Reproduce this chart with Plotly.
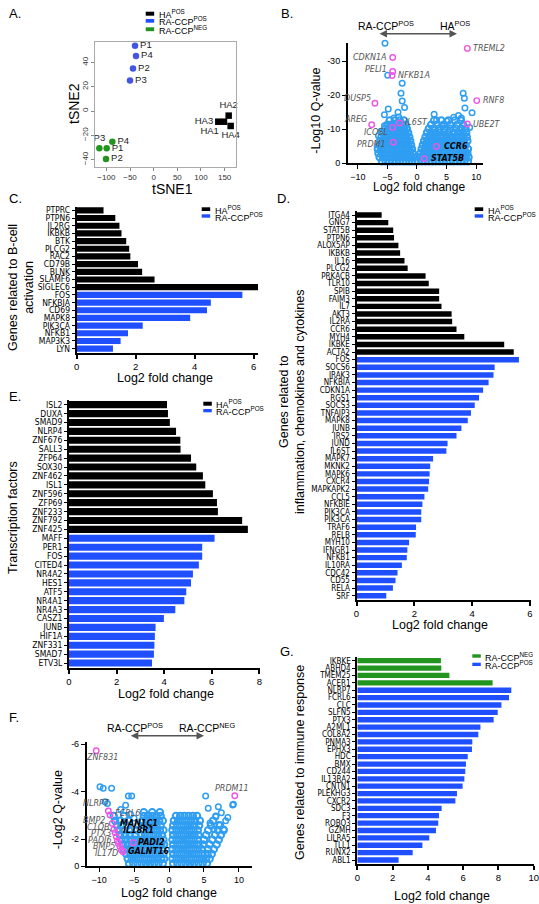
import plotly.graph_objects as go

W, H = 539, 904


def px(p):
    return p / W


def py(p):
    return 1 - p / H


BLACK = "#000000"
BLUE = "#1f4fff"
GREEN = "#22951f"
VBLUE = "#2f9ef2"
PINK = "#ee55e6"
ABLUE = "#4655e0"
LABEL_FONT = "DejaVu Sans Condensed, Liberation Sans Narrow, Liberation Sans, sans-serif"
MAIN_FONT = "Liberation Sans, Arial, sans-serif"
VOLC_FONT = "DejaVu Sans, Verdana, sans-serif"

# ---------------- Panel A: tSNE ----------------
tsne_ha_names = ["HA1", "HA2", "HA3", "HA4"]
tsne_ha_x = [148.6, 158.5, 136.6, 162.7]
tsne_ha_y = [-8.8, -3.8, -8.8, -12.3]
tsne_pos_names = ["P1", "P2", "P3", "P4"]
tsne_pos_x = [-39.4, -43.7, -50.0, -37.3]
tsne_pos_y = [53.7, 35.0, 25.0, 45.2]
tsne_neg_names = ["P1", "P2", "P3", "P4"]
tsne_neg_x = [-99.3, -100.7, -114.8, -87.3]
tsne_neg_y = [-30.7, -39.5, -30.7, -25.2]

# ---------------- Panel B: volcano HA vs RA-CCP+ ----------------
b_left_rows_y = [0.5, 1.7, 2.9, 4.1, 5.3, 6.5, 7.7, 8.9, 10.1, 11.3, 12.5]
b_left_rows_x = [
    [-5.9, -5.3, -4.7, -4.1, -3.5, -2.9, -2.3, -1.8, -1.3, -0.8, -0.3],
    [-6.3, -5.7, -5.1, -4.5, -3.9, -3.3, -2.7, -2.1, -1.6, -1.0, -0.5],
    [-6.5, -5.9, -5.3, -4.7, -4.1, -3.5, -2.9, -2.3, -1.8, -1.2, -0.7],
    [-6.6, -6.0, -5.4, -4.8, -4.2, -3.6, -3.0, -2.5, -1.9, -1.35, -0.85],
    [-6.4, -5.8, -5.2, -4.6, -4.0, -3.4, -2.8, -2.2, -1.6, -1.0],
    [-6.2, -5.6, -5.0, -4.4, -3.8, -3.2, -2.7, -2.2, -1.7, -1.15],
    [-6.0, -5.4, -4.8, -4.2, -3.6, -3.0, -2.4, -1.8, -1.3],
    [-5.7, -5.0, -4.4, -3.8, -3.2, -2.6, -2.0, -1.5],
    [-5.4, -4.6, -3.9, -3.3, -2.7, -2.2, -1.7],
    [-5.0, -4.3, -3.6, -3.0, -2.4, -1.9],
    [-4.6, -3.7, -2.9, -2.2],
]
b_right_rows_y = [0.5, 1.7, 2.9, 4.1, 5.3, 6.5, 7.7, 8.9, 10.1, 11.3, 12.5]
b_right_rows_x = [
    [0.2, 0.8, 1.4, 2.0, 2.6, 3.2, 3.8, 4.4, 5.0, 5.6, 6.2, 6.8, 7.4, 8.0, 8.6],
    [0.4, 1.0, 1.6, 2.2, 2.8, 3.4, 4.0, 4.6, 5.2, 5.8, 6.4, 7.0, 7.6, 8.2, 8.7],
    [0.6, 1.2, 1.8, 2.4, 3.0, 3.6, 4.2, 4.8, 5.4, 6.0, 6.6, 7.2, 7.8, 8.5],
    [0.8, 1.4, 2.0, 2.6, 3.2, 3.8, 4.4, 5.0, 5.6, 6.2, 6.8, 7.4, 8.0, 8.6],
    [1.0, 1.6, 2.2, 2.8, 3.4, 4.0, 4.6, 5.2, 5.8, 6.4, 7.0, 7.6, 8.2],
    [1.2, 1.8, 2.4, 3.0, 3.6, 4.2, 4.8, 5.4, 6.0, 6.6, 7.2, 7.8, 8.5],
    [1.45, 2.1, 2.7, 3.3, 3.9, 4.5, 5.1, 5.8, 6.5, 7.1, 7.7, 8.4],
    [1.7, 2.4, 3.1, 3.8, 4.6, 5.4, 6.2, 7.0, 7.7, 8.3],
    [2.0, 2.8, 3.7, 4.6, 5.6, 6.6, 7.5, 8.2],
    [2.4, 3.4, 4.5, 5.6, 6.8, 7.8],
    [2.9, 4.1, 5.3, 6.4, 7.4],
]
b_sparse_x = [-5.4, -4.95, -2.5, -2.7, -2.5, -2.1, -4.85, -5.5, -3.2, -3.9, -6.5, -6.1, -5.5,
              -3.1, 7.8, 8.0, 8.1, 9.3, 7.5, 6.2, 5.0, 2.9, 3.3, 4.2, 7.0, 8.9]
b_sparse_y = [35.3, 25.9, 23.5, 20.6, 18.3, 16.4, 15.9, 14.2, 15.0, 13.3, 8.0, 9.4, 11.0,
              13.6, 20.6, 19.1, 16.2, 14.8, 13.3, 13.5, 12.4, 14.4, 12.7, 11.2, 14.0, 10.5]
b_hl_names = ["TREML2", "CDKN1A", "PELI1", "NFKB1A", "DUSP5", "RNF8", "AREG", "UBE2T",
              "IL6ST", "ICOSL", "PRDM1", "CCR6", "STAT5B"]
b_hl_x = [8.5, -4.1, -4.1, -4.2, -7.1, 10.1, -7.65, 8.5, -2.9, -4.1, -4.0, 3.3, 1.24]
b_hl_y = [33.8, 31.1, 27.0, 25.8, 17.6, 18.4, 11.3, 11.5, 11.8, 10.5, 6.1, 4.9, 1.3]

# ---------------- Panel C: B-cell activation ----------------
c_ha_genes = ["PTPRC", "PTPN6", "IL2RG", "IKBKB", "BTK", "PLCG2", "RAC2", "CD79B",
              "BLNK", "SLAMF6", "SIGLEC6"]
c_ha_vals = [0.91, 1.31, 1.45, 1.52, 1.68, 1.78, 1.82, 2.08, 2.22, 2.64, 6.15]
c_ra_genes = ["FOS", "NFKBIA", "CD69", "MAPK8", "PIK3CA", "NFKB1", "MAP3K3", "LYN"]
c_ra_vals = [5.62, 4.55, 4.42, 3.85, 2.24, 1.74, 1.49, 1.23]

# ---------------- Panel D: inflammation ----------------
d_ha_genes = ["ITGA4", "GNG7", "STAT5B", "PTPN6", "ALOX5AP", "IKBKB", "IL16", "PLCG2",
              "PRKACB", "TLR10", "SPIB", "FAIM3", "IL7", "AKT3", "IL2RA", "CCR6", "MYH4",
              "IKBKE", "ACTA2"]
d_ha_vals = [0.87, 1.10, 1.27, 1.30, 1.45, 1.51, 1.66, 1.77, 2.39, 2.50, 2.86, 2.86, 2.94,
             3.29, 3.31, 3.46, 3.73, 5.11, 5.44]
d_ra_genes = ["FOS", "SOCS6", "IRAK3", "NFKBIA", "CDKN1A", "RGS1", "SOCS3", "TNFAIP3",
              "MAPK8", "JUNB", "IRS2", "JUND", "IL6ST", "MAPK7", "MKNK2", "MAPK6", "CXCR4",
              "MAPKAPK2", "CCL5", "NFKBIE", "PIK3CA", "PIK3CA", "TRAF6", "RELB", "MYH10",
              "IFNGR1", "NFKB1", "IL10RA", "CDC42", "CD55", "RELA", "SRF"]
d_ra_vals = [5.62, 4.78, 4.74, 4.57, 4.38, 4.24, 4.09, 3.96, 3.85, 3.63, 3.46, 3.15, 3.11,
             2.65, 2.55, 2.53, 2.51, 2.48, 2.35, 2.28, 2.24, 2.24, 2.06, 2.05, 1.82, 1.76,
             1.74, 1.57, 1.42, 1.35, 1.26, 1.03]

# ---------------- Panel E: transcription factors ----------------
e_ha_genes = ["ISL2", "DUXA", "SMAD9", "NLRP4", "ZNF676", "SALL3", "ZFP64", "SOX30",
              "ZNF462", "ISL1", "ZNF596", "ZFP69", "ZNF233", "ZNF792", "ZNF425"]
e_ha_vals = [4.12, 4.16, 4.24, 4.50, 4.68, 4.69, 5.13, 5.35, 5.63, 5.73, 6.05, 6.22, 6.26,
             7.28, 7.52]
e_ra_genes = ["MAFF", "PER1", "FOS", "CITED4", "NR4A2", "HES1", "ATF5", "NR4A1", "NR4A3",
              "CASZ1", "JUNB", "HIF1A", "ZNF331", "SMAD7", "ETV3L"]
e_ra_vals = [6.12, 5.60, 5.60, 5.46, 5.21, 5.13, 4.93, 4.85, 4.47, 3.99, 3.64, 3.61, 3.59,
             3.57, 3.49]

# ---------------- Panel F: volcano RA-CCP+ vs RA-CCP- ----------------
f_left_rows_y = [0.98, 1.18, 1.38, 1.58, 1.78, 1.98, 2.18, 2.38, 2.58, 2.78, 2.98, 3.14]
f_left_rows_x = [
    [-5.7, -5.1, -4.5, -3.9, -3.3, -2.7, -2.1, -1.5, -0.9],
    [-5.9, -5.3, -4.7, -4.1, -3.5, -2.9, -2.3, -1.7, -1.1, -0.7],
    [-6.1, -5.5, -4.9, -4.3, -3.7, -3.1, -2.5, -1.9, -1.3, -0.8],
    [-6.35, -5.75, -5.15, -4.55, -3.95, -3.35, -2.75, -2.15, -1.55, -0.95],
    [-6.55, -5.9, -5.3, -4.7, -4.1, -3.5, -2.9, -2.3, -1.7, -1.1, -0.7],
    [-6.8, -6.2, -5.5, -4.9, -4.3, -3.7, -3.1, -2.5, -1.9, -1.3, -0.8],
    [-7.0, -6.3, -5.6, -4.8, -4.0, -3.4, -2.8, -2.2, -1.6, -1.0],
    [-7.2, -6.5, -5.7, -4.6, -3.7, -3.1, -2.5, -1.9, -1.3, -0.8],
    [-7.45, -6.8, -5.9, -4.4, -3.6, -3.0, -2.4, -1.8, -1.2],
    [-7.7, -7.0, -5.8, -3.8, -3.2, -2.6, -2.0, -1.4, -0.9],
    [-7.9, -6.4, -3.6, -3.0, -2.4, -1.8, -1.2],
    [-3.6, -2.4, -1.3],
]
f_right_rows_y = [0.98, 1.18, 1.38, 1.58, 1.78, 1.98, 2.18, 2.38, 2.58, 2.78, 2.98]
f_right_rows_x = [
    [0.6, 1.2, 1.8, 2.4, 3.0, 3.6, 4.2, 4.8, 5.4],
    [0.5, 1.1, 1.7, 2.3, 2.9, 3.5, 4.1, 4.7, 5.3, 5.8],
    [0.6, 1.2, 1.8, 2.4, 3.0, 3.6, 4.2, 4.8, 5.5, 6.1],
    [0.5, 1.1, 1.7, 2.3, 2.9, 3.5, 4.1, 4.7, 5.6, 6.4],
    [0.6, 1.2, 1.8, 2.4, 3.0, 3.6, 4.2, 4.9, 5.8, 6.8],
    [0.5, 1.1, 1.7, 2.3, 2.9, 3.5, 4.1, 5.0, 6.2, 7.1],
    [0.6, 1.2, 1.8, 2.4, 3.0, 3.6, 4.2, 5.3, 6.6, 7.4],
    [0.5, 1.1, 1.7, 2.3, 2.9, 3.5, 4.1, 5.6, 7.0, 7.8],
    [0.6, 1.2, 1.8, 2.4, 3.0, 3.6, 4.3, 6.0, 7.3],
    [0.7, 1.3, 1.9, 2.5, 3.1, 3.7, 4.4, 6.3],
    [1.0, 1.6, 2.2, 2.8, 3.4, 4.0],
]
f_sparse_x = [-9.86, -9.4, -8.2, -9.14, -8.8, -6.2, -6.9, -5.8, -5.33, 5.24, 9.2, 5.6, 6.67,
              7.48, 8.4, 7.86, 7.14, 5.86, 6.43, 8.1, 7.05, 9.1, 6.7, -5.0, -5.5]
f_sparse_y = [4.21, 4.14, 4.14, 3.58, 3.50, 3.43, 3.25, 3.82, 3.82, 3.82, 3.47, 3.30, 2.98,
              3.12, 2.92, 2.42, 2.62, 2.69, 2.42, 2.78, 3.37, 3.44, 2.95, 2.9, 3.05]
f_hl_names = ["ZNF831", "PRDM11", "NLRP7", "FCRL6", "BMP2", "C1QB", "MAN1C1", "PTX3",
              "IL18R1", "PADI6", "BMP5", "GALNT16", "IL17D", "PADI2"]
f_hl_x = [-10.4, 9.4, -8.66, -8.43, -8.1, -7.86, -7.71, -7.52, -7.38, -7.24, -7.0, -6.81,
          -6.57, -5.1]
f_hl_y = [5.72, 3.83, 3.19, 3.02, 2.67, 2.42, 2.28, 2.11, 1.94, 1.83, 1.69, 1.55, 1.48, 1.86]

# ---------------- Panel G: immune response ----------------
g_neg_genes = ["IKBKE", "ABHD4", "TMEM25", "ACER1"]
g_neg_vals = [4.74, 4.76, 5.22, 7.67]
g_pos_genes = ["NLRP7", "FCRL6", "CLC", "SLFN5", "PTX3", "A2ML1", "COL8A2", "PNMA3", "EPHX3",
               "HDC", "BMX", "CD244", "IL13RA2", "CNTN1", "PLEKHG3", "CXCR2", "SDC3", "F3",
               "ROBO3", "GZMH", "LILRA5", "TLL1", "RUNX2", "ABL1"]
g_pos_vals = [8.73, 8.60, 8.17, 7.96, 7.73, 6.98, 6.86, 6.52, 6.50, 6.26, 6.16, 6.12, 6.07,
              5.97, 5.65, 5.56, 4.78, 4.63, 4.59, 4.46, 4.08, 3.69, 3.14, 2.34]


def flatten_rows(rows_y, rows_x):
    xs, ys = [], []
    for yv, row in zip(rows_y, rows_x):
        for xv in row:
            xs.append(xv)
            ys.append(yv)
    return xs, ys


fig = go.Figure()

# ---- Panel A traces
fig.add_trace(go.Scatter(x=tsne_ha_x, y=tsne_ha_y, text=tsne_ha_names, mode="markers+text",
                         textposition=["bottom left", "top center", "middle left", "bottom center"],
                         marker=dict(symbol="square", size=6.5, color=BLACK),
                         textfont=dict(size=9.5, color="#222"), xaxis="x", yaxis="y",
                         cliponaxis=False, showlegend=False))
fig.add_trace(go.Scatter(x=tsne_pos_x, y=tsne_pos_y, text=tsne_pos_names, mode="markers+text",
                         textposition="middle right",
                         marker=dict(symbol="circle", size=6.5, color=ABLUE),
                         textfont=dict(size=9.5, color="#222"), xaxis="x", yaxis="y",
                         cliponaxis=False, showlegend=False))
fig.add_trace(go.Scatter(x=tsne_neg_x, y=tsne_neg_y, text=tsne_neg_names, mode="markers+text",
                         textposition=["middle right", "middle right", "top center", "middle right"],
                         marker=dict(symbol="circle", size=6.5, color=GREEN),
                         textfont=dict(size=9.5, color="#222"), xaxis="x", yaxis="y",
                         cliponaxis=False, showlegend=False))


# ---- Volcano helper
def add_volcano(rows, sparse_x, sparse_y, hl_x, hl_y, xa, ya):
    allx, ally = [], []
    for ry, rx in rows:
        xs, ys = flatten_rows(ry, rx)
        allx += xs
        ally += ys
    # dense cloud (many overlapping points)
    fig.add_trace(go.Scatter(x=allx, y=ally, mode="markers",
                             marker=dict(symbol="circle-open", size=6.5, color=VBLUE,
                                         line=dict(width=2, color=VBLUE)),
                             xaxis=xa, yaxis=ya, cliponaxis=False, showlegend=False))
    # isolated points
    fig.add_trace(go.Scatter(x=sparse_x, y=sparse_y, mode="markers",
                             marker=dict(symbol="circle-open", size=5.5, color=VBLUE,
                                         line=dict(width=1.5, color=VBLUE)),
                             xaxis=xa, yaxis=ya, cliponaxis=False, showlegend=False))
    fig.add_trace(go.Scatter(x=hl_x, y=hl_y, mode="markers",
                             marker=dict(symbol="circle-open", size=5.5, color=PINK,
                                         line=dict(width=1.4, color=PINK)),
                             xaxis=xa, yaxis=ya, cliponaxis=False, showlegend=False))


add_volcano([(b_left_rows_y, b_left_rows_x), (b_right_rows_y, b_right_rows_x)],
            b_sparse_x, b_sparse_y, b_hl_x, b_hl_y, "x2", "y2")
add_volcano([(f_left_rows_y, f_left_rows_x), (f_right_rows_y, f_right_rows_x)],
            f_sparse_x, f_sparse_y, f_hl_x, f_hl_y, "x6", "y6")


# ---- Bar helper
def add_bars(g1_names, g1_vals, g1_color, g2_names, g2_vals, g2_color, xa, ya, width):
    n1 = len(g1_names)
    pos1 = list(range(n1))
    pos2 = list(range(n1, n1 + len(g2_names)))
    fig.add_trace(go.Bar(x=g1_vals, y=pos1, orientation="h", marker=dict(color=g1_color, line=dict(width=0)),
                         width=width, xaxis=xa, yaxis=ya, showlegend=False))
    fig.add_trace(go.Bar(x=g2_vals, y=pos2, orientation="h", marker=dict(color=g2_color, line=dict(width=0)),
                         width=width, xaxis=xa, yaxis=ya, showlegend=False))
    return g1_names + g2_names


c_names = add_bars(c_ha_genes, c_ha_vals, BLACK, c_ra_genes, c_ra_vals, BLUE, "x3", "y3", 0.8)
d_names = add_bars(d_ha_genes, d_ha_vals, BLACK, d_ra_genes, d_ra_vals, BLUE, "x4", "y4", 0.72)
e_names = add_bars(e_ha_genes, e_ha_vals, BLACK, e_ra_genes, e_ra_vals, BLUE, "x5", "y5", 0.8)
g_names = add_bars(g_neg_genes, g_neg_vals, GREEN, g_pos_genes, g_pos_vals, BLUE, "x7", "y7", 0.72)

# ---------------- Axes ----------------
layout = dict(
    width=W, height=H, margin=dict(l=0, r=0, t=0, b=0),
    paper_bgcolor="white", plot_bgcolor="white", showlegend=False,
    font=dict(family=MAIN_FONT, size=9, color="black"),
    barmode="overlay", template="none",
)


def common(ax):
    ax.update(showgrid=False, zeroline=False, automargin=False, fixedrange=True)
    return ax


# Panel A
layout["xaxis"] = common(dict(domain=[px(95), px(236)], range=[-124, 174], anchor="y",
                              showline=True, mirror=True, linecolor="#aaa", linewidth=1,
                              ticks="outside", ticklen=3, tickcolor="#888",
                              tickvals=[-100, -50, 0, 50, 100, 150],
                              tickfont=dict(size=8, color="#333")))
layout["yaxis"] = common(dict(domain=[py(166.7), py(41.7)], range=[-45.8, 57], anchor="x",
                              showline=True, mirror=True, linecolor="#aaa", linewidth=1,
                              ticks="outside", ticklen=3, tickcolor="#888",
                              tickvals=[-40, -20, 0, 20, 40], tickangle=-90,
                              tickfont=dict(size=8, color="#333")))


def volc_axes(xn, yn, xdom, ydom, xr, yr, xt, yt, ytt):
    layout["xaxis" + xn] = common(dict(domain=[px(xdom[0]), px(xdom[1])], range=xr, anchor="y" + xn,
                                       showline=True, linecolor="black", linewidth=1.5,
                                       ticks="outside", ticklen=4, tickwidth=1.2, tickcolor="black",
                                       tickvals=xt, tickfont=dict(size=9)))
    layout["yaxis" + yn] = common(dict(domain=[py(ydom[1]), py(ydom[0])], range=yr, anchor="x" + yn,
                                       showline=True, linecolor="black", linewidth=1.5,
                                       ticks="outside", ticklen=4, tickwidth=1.2, tickcolor="black",
                                       tickvals=yt, ticktext=ytt, tickfont=dict(size=9)))


volc_axes("2", "2", (347.7, 483.3), (43.3, 163), [-11.7, 11.2], [0, 35.3],
          [-10, -5, 0, 5, 10], [0, 10, 20, 30], ["0", "-10", "-20", "-30"])
volc_axes("6", "6", (86.7, 252), (741.7, 866), [-11.76, 11.86], [0.88, 6.1],
          [-10, -5, 0, 5, 10], [0.88, 2, 4, 6], ["0", "-2", "-4", "-6"])


def bar_axes(n, xdom, ydom, xr, xt, names, lsize):
    layout["xaxis" + n] = common(dict(domain=[px(xdom[0]), px(xdom[1])], range=xr, anchor="y" + n,
                                      showline=True, linecolor="black", linewidth=2,
                                      ticks="outside", ticklen=4, tickwidth=1.5, tickcolor="black",
                                      tickvals=xt, tickfont=dict(size=9.5)))
    layout["yaxis" + n] = common(dict(domain=[py(ydom[1]), py(ydom[0])],
                                      range=[len(names) - 0.5, -0.5], anchor="x" + n,
                                      showline=True, linecolor="black", linewidth=2,
                                      ticks="outside", ticklen=3, tickwidth=1, tickcolor="black",
                                      tickvals=list(range(len(names))), ticktext=names,
                                      tickfont=dict(size=lsize, family=LABEL_FONT)))


bar_axes("3", (76.7, 258), (206.5, 352.5), [0, 6.15], [0, 2, 4, 6], c_names, 8.5)
bar_axes("4", (356.5, 530.5), (211.2, 599.5), [0, 6.02], [0, 2, 4, 6], d_names, 8)
bar_axes("5", (69, 260), (400.2, 667.5), [0, 8.03], [0, 2, 4, 6, 8], e_names, 8.5)
bar_axes("7", (357.3, 533.7), (657, 863.7), [0, 10], [0, 2, 4, 6, 8, 10], g_names, 8)

# ---------------- Annotations & shapes ----------------
ann = []
shapes = []


def txt(x, y, s, size=12.5, angle=0, xanchor="center", yanchor="middle", color="black",
        family=MAIN_FONT):
    ann.append(dict(x=px(x), y=py(y), xref="paper", yref="paper", text=s, showarrow=False,
                    font=dict(size=size, color=color, family=family), textangle=angle,
                    xanchor=xanchor, yanchor=yanchor, align="center"))


# panel letters
for lab, x, y in [("A.", 7, 13), ("B.", 279, 13), ("C.", 7, 199), ("D.", 275, 199),
                  ("E.", 7, 396), ("F.", 7, 717), ("G.", 278, 651)]:
    txt(x, y, lab, size=13, xanchor="left")

# axis titles
txt(172.3, 189, "tSNE1", size=14)
txt(74, 104, "tSNE2", size=14, angle=-90)
txt(419, 187, "Log2 fold change", size=12)
txt(315.7, 111, "-Log10 Q-value", size=12.5, angle=-90)
txt(165, 378.5, "Log2 fold change", size=12.5)
txt(21, 288, "Genes related to B-cell<br>activation", size=12.5, angle=-90)
txt(440, 625, "Log2 fold change", size=12.5)
txt(292, 402, "Genes related to<br>inflammation, chemokines and cytokines", size=12.5, angle=-90)
txt(166, 694, "Log2 fold change", size=12.5)
txt(13, 518, "Transcription factors", size=12.5, angle=-90)
txt(169.3, 892.5, "Log2 fold change", size=12.5)
txt(58.3, 810, "-Log2 Q-value", size=12.5, angle=-90)
txt(441.7, 895.5, "Log2 fold change", size=12.5)
txt(300, 763, "Genes related to immune response", size=12.5, angle=-90)


# legends
def legend(x0, rows, size=9):
    for (y0, y1, color, label) in rows:
        shapes.append(dict(type="rect", xref="paper", yref="paper", x0=px(x0), x1=px(x0 + 8.5),
                           y0=py(y1), y1=py(y0), fillcolor=color, line=dict(width=0)))
        txt(x0 + 11, (y0 + y1) / 2 + 0.5, label, size=size, xanchor="left")


legend(145.7, [(11.7, 15.7, BLACK, "HA<sup>POS</sup>"),
               (19.0, 22.7, BLUE, "RA-CCP<sup>POS</sup>"),
               (27.3, 31.2, GREEN, "RA-CCP<sup>NEG</sup>")])
legend(201.7, [(207.3, 211, BLACK, "HA<sup>POS</sup>"), (214.3, 217.7, BLUE, "RA-CCP<sup>POS</sup>")])
legend(474.7, [(207.3, 211, BLACK, "HA<sup>POS</sup>"), (214.3, 217.7, BLUE, "RA-CCP<sup>POS</sup>")])
legend(203.3, [(401.7, 405.7, BLACK, "HA<sup>POS</sup>"), (409, 412.3, BLUE, "RA-CCP<sup>POS</sup>")])
legend(472.3, [(654.3, 657.7, GREEN, "RA-CCP<sup>NEG</sup>"), (662.7, 666, BLUE, "RA-CCP<sup>POS</sup>")])

# volcano direction arrows
for (x0, x1, y, l1, c1, l2, c2) in [
    (378, 457, 33.7, "RA-CCP<sup>POS</sup>", 385.8, "HA<sup>POS</sup>", 454.5),
    (129.3, 204, 735.7, "RA-CCP<sup>POS</sup>", 135, "RA-CCP<sup>NEG</sup>", 206.7),
]:
    ann.append(dict(x=px(x1), y=py(y), ax=-(x1 - x0), ay=0, xref="paper", yref="paper",
                    axref="pixel", ayref="pixel", text="", showarrow=True, arrowhead=2,
                    arrowside="end+start", arrowsize=1, arrowwidth=1.5, arrowcolor="#555"))
    txt(c1, y - 8.5, l1, size=10.5)
    txt(c2, y - 8.5, l2, size=10.5)

# volcano gene labels (anchor side, x shift, y shift, bold)
b_label_style = {
    "TREML2": ("left", 4, 0, False), "CDKN1A": ("right", -4, 0, False),
    "PELI1": ("right", -4, 2, False), "NFKB1A": ("left", 4, 0, False),
    "DUSP5": ("right", -2, 5, False), "RNF8": ("left", 4, 0, False),
    "AREG": ("right", -3, 5, False), "UBE2T": ("left", 4, 0, False),
    "IL6ST": ("left", 3, 0, False), "ICOSL": ("right", -3, -5, False),
    "PRDM1": ("right", -5, -2, False), "CCR6": ("left", 5, 0, True),
    "STAT5B": ("left", 5, 0, True),
}
f_label_style = {
    "ZNF831": ("center", 6, -7, False), "PRDM11": ("center", -2.5, 7, False),
    "NLRP7": ("right", 4, 7, False), "FCRL6": ("left", 3, 2, False),
    "BMP2": ("right", -5, 3, False), "C1QB": ("right", -3, 2, False),
    "MAN1C1": ("left", 3, 9, True), "PTX3": ("right", -3.5, 3, False),
    "IL18R1": ("left", 4, 10, True), "PADI6": ("right", -4, 3, False),
    "BMP5": ("right", -3.5, 0, False), "GALNT16": ("left", 5, -1.5, True),
    "IL17D": ("right", -3.5, -2, False), "PADI2": ("left", 3, 0, True),
}


def gene_labels(names, xs, ys, style, xa, ya):
    for nme, xv, yv in zip(names, xs, ys):
        anc, dx, dy, bold = style[nme]
        if bold:
            s, col = "<b><i>%s</i></b>" % nme, "black"
        else:
            s, col = "<i>%s</i>" % nme, "#555"
        ann.append(dict(x=xv, y=yv, xref=xa, yref=ya, text=s, showarrow=False,
                        xanchor=anc, yanchor="middle", xshift=dx, yshift=dy,
                        font=dict(size=8, color=col, family=VOLC_FONT)))


gene_labels(b_hl_names, b_hl_x, b_hl_y, b_label_style, "x2", "y2")
gene_labels(f_hl_names, f_hl_x, f_hl_y, f_label_style, "x6", "y6")

layout["annotations"] = ann
layout["shapes"] = shapes
fig.update_layout(**layout)

fig.write_html("out.html", config={"displayModeBar": False},
               post_script="document.body.style.margin='0px';document.body.style.overflow='hidden';")
